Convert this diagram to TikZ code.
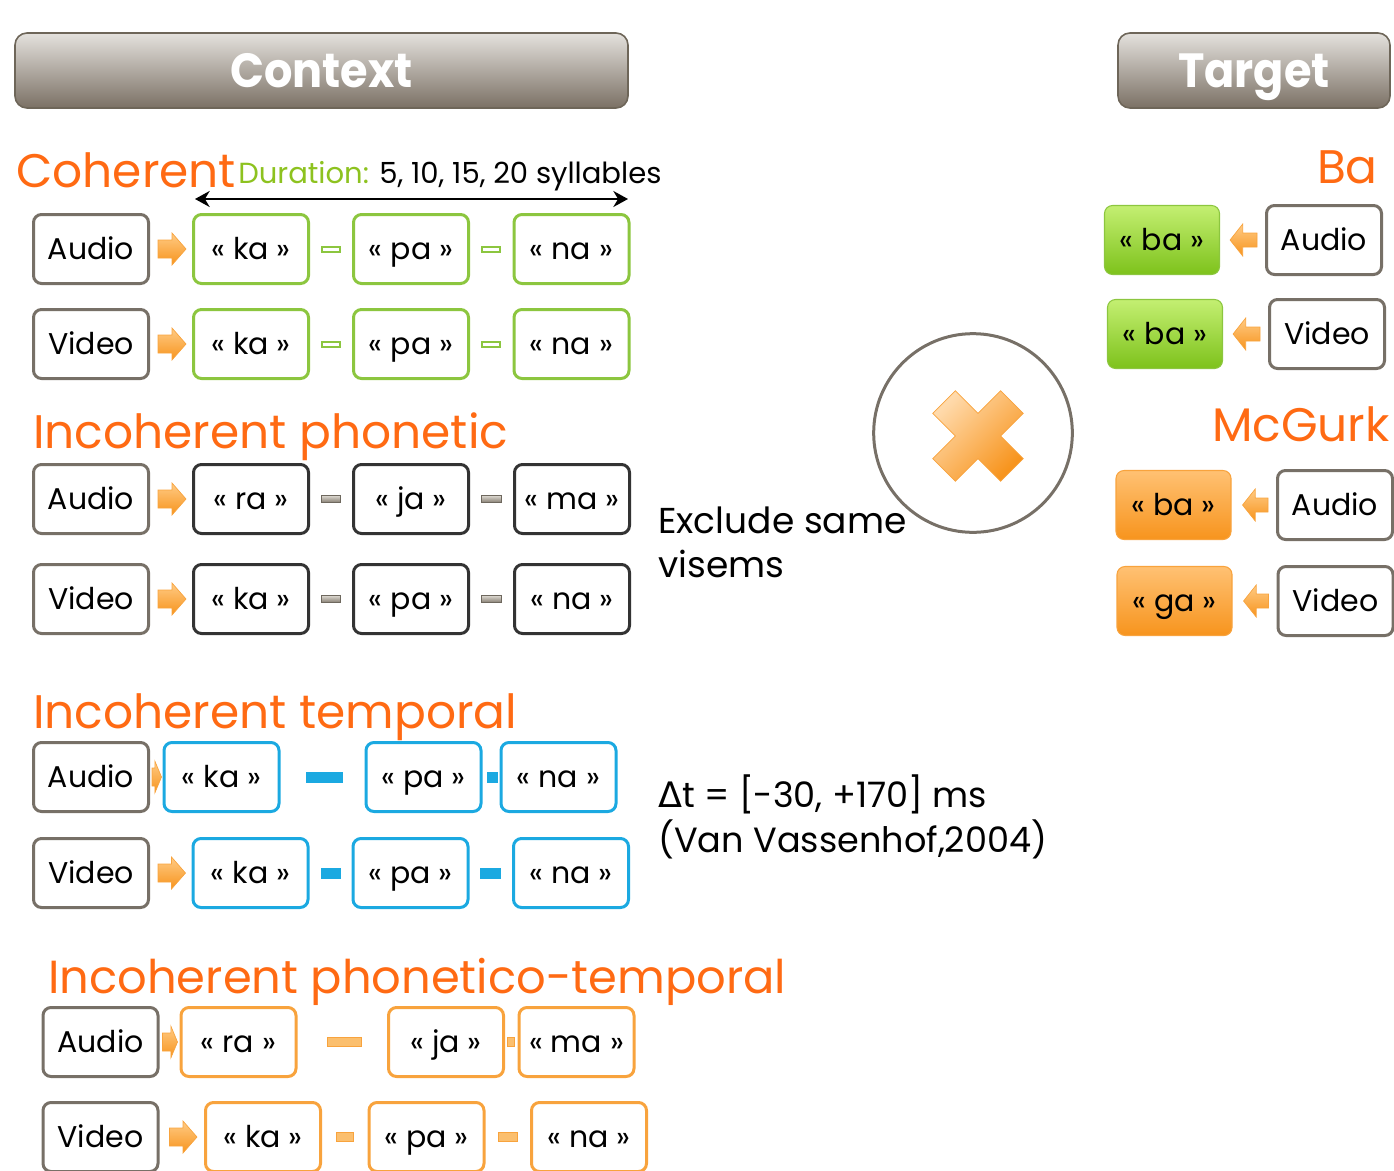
\documentclass[tikz,border=0pt]{standalone}
\usepackage{fontspec}
\setmainfont{Poppins}
\newfontfamily\dejavu{DejaVu Sans}
\usetikzlibrary{calc,arrows.meta}
\definecolor{ttl}{HTML}{FF6A13}
\definecolor{grn}{HTML}{8CC63F}
\definecolor{grntxt}{HTML}{8DC21F}
\definecolor{blu}{HTML}{1BA9E1}
\definecolor{org}{HTML}{F8A33D}
\definecolor{orgl}{HTML}{FBBF6E}
\definecolor{modgray}{HTML}{777067}
\definecolor{dark}{HTML}{333333}
\definecolor{bantop}{HTML}{E4E1DD}
\definecolor{banbot}{HTML}{7B7165}
\definecolor{banbord}{HTML}{6E6659}
\definecolor{arrtop}{HTML}{FFCB85}
\definecolor{arrbot}{HTML}{F7941D}
\definecolor{gtop}{HTML}{C4EF72}
\definecolor{gbot}{HTML}{7DC21B}
\definecolor{otop}{HTML}{FFC173}
\definecolor{obot}{HTML}{F7941D}
\definecolor{ktop}{HTML}{D8D4CC}
\definecolor{kbot}{HTML}{8A8276}
\newcommand\rarr[3][10.5pt]{\shadedraw[blk] let \p1=#2, \p2=#3 in (\x1,\y1+6.75pt) -- (\x2-#1,\y1+6.75pt) -- (\x2-#1,\y1+12pt) -- (\x2,\y1) -- (\x2-#1,\y1-12pt) -- (\x2-#1,\y1-6.75pt) -- (\x1,\y1-6.75pt) -- cycle;}
\newcommand\larr[3][9.5pt]{\shadedraw[blk] let \p1=#2, \p2=#3 in (\x2,\y1+5.25pt) -- (\x1+#1,\y1+5.25pt) -- (\x1+#1,\y1+12pt) -- (\x1,\y1) -- (\x1+#1,\y1-12pt) -- (\x1+#1,\y1-5.25pt) -- (\x2,\y1-5.25pt) -- cycle;}
\begin{document}
\begin{tikzpicture}[x=0.75pt,y=-0.75pt,
 bx/.style={rounded corners=6pt, line width=2.25pt, minimum width=86.25pt, minimum height=51.75pt, inner sep=0pt, text height=15.5pt, text depth=0pt, font=\fontsize{22.5}{27}\selectfont, text=black},
 mod/.style={bx, draw=modgray, fill=white},
 gsyl/.style={bx, draw=grn, fill=white},
 ksyl/.style={bx, draw=dark, fill=white},
 bsyl/.style={bx, draw=blu, fill=white},
 osyl/.style={bx, draw=org, fill=white},
 gfill/.style={bx, line width=0.8pt, draw=grn, top color=gtop, bottom color=gbot},
 ofill/.style={bx, line width=0.8pt, draw=org, top color=otop, bottom color=obot},
 gconn/.style={draw=grn, line width=1.5pt, fill=white, minimum width=13.5pt, minimum height=3.75pt, inner sep=0pt},
 kconn/.style={draw=kbot!80!black, line width=0.6pt, top color=ktop, bottom color=kbot, minimum width=14.5pt, minimum height=4.75pt, inner sep=0pt},
 bconn/.style={fill=blu, minimum height=8.25pt, inner sep=0pt},
 oconn/.style={draw=org, line width=0.8pt, fill=orgl, minimum height=6.75pt, inner sep=0pt},
 title/.style={text=ttl, font=\fontsize{35.3}{38}\selectfont, inner sep=0pt},
 banner/.style={rounded corners=9pt, draw=banbord, line width=1.2pt, top color=bantop, bottom color=banbot, text=white, font=\fontsize{36}{40}\selectfont\bfseries, inner sep=0pt, text height=25pt, text depth=0pt},
 txt/.style={inner sep=0pt, anchor=base west, font=\fontsize{27}{30}\selectfont},
 blk/.style={top color=arrtop, bottom color=arrbot, draw=org, line width=0.5pt}
]
\useasboundingbox (0,0) rectangle (1394,1170);
% banners
\node[banner, minimum width=459.75pt, minimum height=56.25pt] (ctx) at (321.5,70.5) {\scalebox{0.93}[1]{Context}};
\node[banner, minimum width=204pt, minimum height=56.25pt] (tgt) at (1254,70.5) {\scalebox{0.93}[1]{Target}};

% ---------- Coherent
\node[title, anchor=base west] (tcoh) at (16,187) {Coherent};
\node[inner sep=0pt, anchor=base west, font=\fontsize{21.8}{24}\selectfont] (dur) at (238,183) {\textcolor{grntxt}{Duration:} 5, 10, 15, 20 syllables};
\coordinate (dl) at (195,199);
\coordinate (dr) at (628,199);
\draw[line width=1.8pt, {Stealth[length=11pt,width=12pt]}-{Stealth[length=11pt,width=12pt]}] (dl) -- (dr);

\node[mod] (cAa) at (91,249) {Audio};
\node[gsyl] (cAk) at (251,249) {« ka »};
\node[gsyl] (cAp) at (411,249) {« pa »};
\node[gsyl] (cAn) at (571.5,249) {« na »};
\node[gconn] (cAc1) at ($(cAk.east)!0.5!(cAp.west)$) {};
\node[gconn] (cAc2) at ($(cAp.east)!0.5!(cAn.west)$) {};
\rarr{($(cAa.east)+(8,0)$)}{($(cAk.west)+(-6,0)$)}

\node[mod] (cVa) at (91,344) {Video};
\node[gsyl] (cVk) at (251,344) {« ka »};
\node[gsyl] (cVp) at (411,344) {« pa »};
\node[gsyl] (cVn) at (571.5,344) {« na »};
\node[gconn] (cVc1) at ($(cVk.east)!0.5!(cVp.west)$) {};
\node[gconn] (cVc2) at ($(cVp.east)!0.5!(cVn.west)$) {};
\rarr{($(cVa.east)+(8,0)$)}{($(cVk.west)+(-6,0)$)}

% ---------- Incoherent phonetic
\node[title, anchor=base west] (tph) at (33,448) {Incoherent phonetic};
\node[mod] (pAa) at (91,499) {Audio};
\node[ksyl] (pAr) at (251,499) {« ra »};
\node[ksyl] (pAj) at (411,499) {« ja »};
\node[ksyl] (pAm) at (572,499) {« ma »};
\node[kconn] (pAc1) at ($(pAr.east)!0.5!(pAj.west)$) {};
\node[kconn] (pAc2) at ($(pAj.east)!0.5!(pAm.west)$) {};
\rarr{($(pAa.east)+(8,0)$)}{($(pAr.west)+(-6,0)$)}

\node[mod] (pVa) at (91,599) {Video};
\node[ksyl] (pVk) at (251,599) {« ka »};
\node[ksyl] (pVp) at (411,599) {« pa »};
\node[ksyl] (pVn) at (572,599) {« na »};
\node[kconn] (pVc1) at ($(pVk.east)!0.5!(pVp.west)$) {};
\node[kconn] (pVc2) at ($(pVp.east)!0.5!(pVn.west)$) {};
\rarr{($(pVa.east)+(8,0)$)}{($(pVk.west)+(-6,0)$)}

% circle with cross
\node[circle, draw=modgray, line width=2.25pt, minimum size=149pt, inner sep=0pt] (circ) at (973,433) {};
\begin{scope}[shift={(978,436)}, rotate=45]
\shadedraw[top color=otop!60!white, bottom color=obot, draw=org, line width=0.6pt, shading angle=45]
 (16,48) -- (16,16) -- (48,16) -- (48,-16) -- (16,-16) -- (16,-48) -- (-16,-48) -- (-16,-16) -- (-48,-16) -- (-48,16) -- (-16,16) -- (-16,48) -- cycle;
\end{scope}
\node[txt] (ex1) at (658,533) {Exclude same};
\node[txt] (ex2) at (658,577) {visems};

% ---------- Incoherent temporal
\node[title, anchor=base west] (ttp) at (33,728) {Incoherent temporal};
\node[mod] (tAa) at (91,777) {Audio};
\node[bsyl] (tAk) at (221.5,777) {« ka »};
\node[bsyl] (tAp) at (423.5,777) {« pa »};
\node[bsyl] (tAn) at (558.5,777) {« na »};
\node[bconn, minimum width=27.75pt] (tAc1) at ($(tAk.east)!0.5!(tAp.west)+(2,0)$) {};
\node[bconn, minimum width=8.25pt] (tAc2) at ($(tAp.east)!0.5!(tAn.west)+(1,0)$) {};
\rarr[5pt]{($(tAa.east)+(2,0)$)}{($(tAk.west)+(-1,0)$)}

\node[mod] (tVa) at (91,873) {Video};
\node[bsyl] (tVk) at (250.5,873) {« ka »};
\node[bsyl] (tVp) at (410.5,873) {« pa »};
\node[bsyl] (tVn) at (571,873) {« na »};
\node[bconn, minimum width=15pt] (tVc1) at ($(tVk.east)!0.5!(tVp.west)$) {};
\node[bconn, minimum width=15.75pt] (tVc2) at ($(tVp.east)!0.5!(tVn.west)$) {};
\rarr{($(tVa.east)+(8,0)$)}{($(tVk.west)+(-6,0)$)}

\node[txt, font=\fontsize{26.3}{30}\selectfont] (dt1) at (658,807) {{\dejavu Δ}t = [-30, +170] ms};
\node[txt, font=\fontsize{26.3}{30}\selectfont] (dt2) at (658,852) {(Van Vassenhof,2004)};

% ---------- Incoherent phonetico-temporal
\node[title, anchor=base west, font=\fontsize{34.8}{38}\selectfont] (tpt) at (48,993) {Incoherent phonetico-temporal};
\node[mod] (xAa) at (100.5,1042) {Audio};
\node[osyl] (xAr) at (238.5,1042) {« ra »};
\node[osyl] (xAj) at (446,1042) {« ja »};
\node[osyl] (xAm) at (576.5,1042) {« ma »};
\node[oconn, minimum width=25.5pt] (xAc1) at ($(xAr.east)!0.5!(xAj.west)+(2,0)$) {};
\node[oconn, minimum width=5.25pt] (xAc2) at ($(xAj.east)!0.5!(xAm.west)$) {};
\rarr[5pt]{($(xAa.east)+(3,0)$)}{($(xAr.west)+(-2,0)$)}

\node[mod] (xVa) at (100.5,1137) {Video};
\node[osyl] (xVk) at (263,1137) {« ka »};
\node[osyl] (xVp) at (426.5,1137) {« pa »};
\node[osyl] (xVn) at (589,1137) {« na »};
\node[oconn, minimum width=13pt] (xVc1) at ($(xVk.east)!0.5!(xVp.west)$) {};
\node[oconn, minimum width=14pt] (xVc2) at ($(xVp.east)!0.5!(xVn.west)$) {};
\rarr{($(xVa.east)+(10,0)$)}{($(xVk.west)+(-7,0)$)}

% ---------- Target
\node[title, anchor=base east] (tba) at (1378,183) {Ba};
\node[gfill] (bAs) at (1162,240) {« ba »};
\node[mod] (bAa) at (1324,240) {Audio};
\larr{($(bAs.east)+(10,0)$)}{($(bAa.west)+(-8,0)$)}
\node[gfill] (bVs) at (1165,334) {« ba »};
\node[mod] (bVa) at (1327,334) {Video};
\larr{($(bVs.east)+(10,0)$)}{($(bVa.west)+(-8,0)$)}

\node[title, anchor=base east] (tmc) at (1390,441) {McGurk};
\node[ofill] (mAs) at (1173.5,505) {« ba »};
\node[mod] (mAa) at (1335,505) {Audio};
\larr{($(mAs.east)+(11,0)$)}{($(mAa.west)+(-8,0)$)}
\node[ofill] (mVs) at (1174.5,601) {« ga »};
\node[mod] (mVa) at (1335.5,601) {Video};
\larr{($(mVs.east)+(11,0)$)}{($(mVa.west)+(-8,0)$)}
\end{tikzpicture}
\end{document}
